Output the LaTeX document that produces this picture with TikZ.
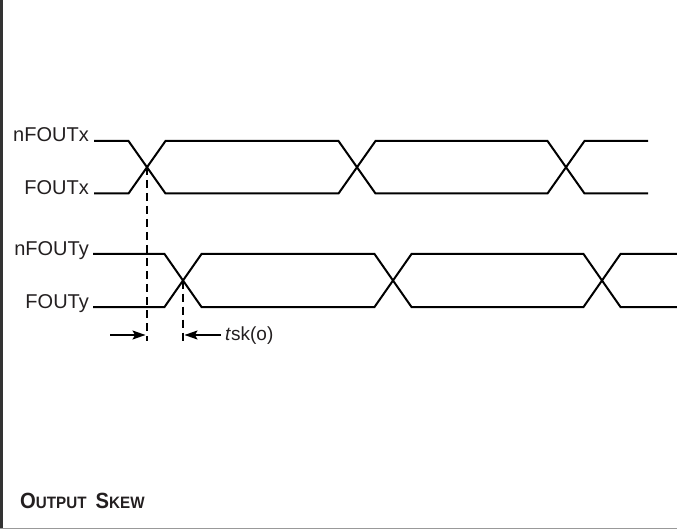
\documentclass[tikz,border=0pt]{standalone}
\usepackage{fontspec}
\setmainfont{Liberation Sans}
\usetikzlibrary{arrows.meta}
\definecolor{ink}{HTML}{231F20}
\newcommand{\bigc}[1]{{\fontsize{22}{22}\selectfont #1}}
\newcommand{\smc}[1]{{\fontsize{16.5}{16.5}\selectfont #1}}
\tikzset{
  sig/.style={line width=2pt, black, line join=miter},
  lbl/.style={font=\fontsize{20}{20}\selectfont, text=ink, inner sep=0pt, anchor=base east},
  guide/.style={line width=1.2pt, black, dash pattern=on 8pt off 5pt},
  skewarrow/.style={line width=1.4pt, -{Stealth[length=13pt,width=9pt,inset=2.5pt]}},
}
\begin{document}
\begin{tikzpicture}[x=1pt,y=-1pt]
\useasboundingbox (0,0) rectangle (677,529);
% frame
\draw[line width=2.7pt, color=black!80] (1.35,0) -- (1.35,529);
\draw[line width=1pt, color=black!40] (0,528) -- (677,528);
% labels
\node[lbl] (nfx) at (89,142) {nFOUTx};
\node[lbl] (fx) at (89,195) {FOUTx};
\node[lbl] (nfy) at (89,256) {nFOUTy};
\node[lbl] (fy) at (89,308) {FOUTy};
% crossings
\coordinate (cx1) at (147,167);
\coordinate (cy1) at (183,280.5);
% X signal
\draw[sig] (94,141) -- (128.5,141) -- (165.5,193.5) -- (338.5,193.5) -- (375.5,141) -- (547.5,141) -- (584.5,193.5) -- (648,193.5);
\draw[sig] (94,193.5) -- (128.5,193.5) -- (165.5,141) -- (338.5,141) -- (375.5,193.5) -- (547.5,193.5) -- (584.5,141) -- (648,141);
% Y signal
\draw[sig] (93,254) -- (164.5,254) -- (201.5,307) -- (374.5,307) -- (411.5,254) -- (583.5,254) -- (620.5,307) -- (677,307);
\draw[sig] (93,307) -- (164.5,307) -- (201.5,254) -- (374.5,254) -- (411.5,307) -- (583.5,307) -- (620.5,254) -- (677,254);
% guides
\draw[guide] (cx1) -- (147,341);
\draw[guide] (cy1) -- (183,341);
\coordinate (al) at (110,335);
\coordinate (ax) at (145.5,335);
\coordinate (ar) at (221,335);
\coordinate (ay) at (184.5,335);
\draw[skewarrow] (al) -- (ax);
\draw[skewarrow] (ar) -- (ay);
\node[font=\fontsize{19}{19}\selectfont, text=ink, inner sep=0pt, anchor=west] (tsk) at (225,336) {\textit{t}sk(o)};
% title
\node[inner sep=0pt, anchor=base west, text=ink, font=\bfseries] (title) at (20,508)
  {\scalebox{0.92}[1]{\bigc{O}\smc{UTPUT}\kern10pt\bigc{S}\smc{KEW}}};
\end{tikzpicture}
\end{document}
